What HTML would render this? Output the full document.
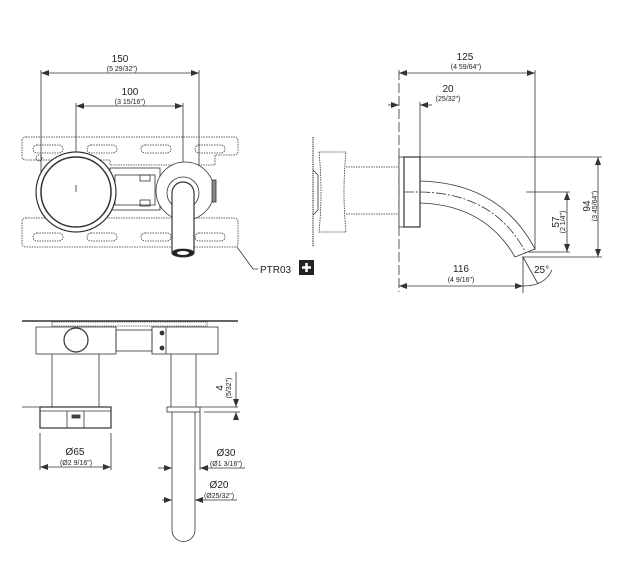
<!DOCTYPE html>
<html><head><meta charset="utf-8"><style>
html,body{margin:0;padding:0;background:#fff}
svg{display:block}
text{font-family:"Liberation Sans",sans-serif;fill:#222}
.n{font-size:10px}
.s{font-size:7px}
</style></head><body>
<svg width="619" height="570" viewBox="0 0 619 570" xmlns="http://www.w3.org/2000/svg">
<defs>
<marker id="a" markerWidth="8" markerHeight="6" refX="8" refY="3" orient="auto-start-reverse" markerUnits="userSpaceOnUse"><path d="M0,0 L8,3 L0,6z" fill="#333"/></marker>
</defs>
<g stroke="#333" stroke-width="0.8" fill="none">
<!-- TOP LEFT VIEW -->
<line x1="41" y1="70" x2="41" y2="180"/><line x1="199" y1="70" x2="199" y2="180"/>
<line x1="41" y1="73" x2="199" y2="73" marker-start="url(#a)" marker-end="url(#a)"/>
<line x1="76" y1="103" x2="76" y2="192"/><line x1="183" y1="103" x2="183" y2="190"/>
<line x1="76" y1="106" x2="183" y2="106" marker-start="url(#a)" marker-end="url(#a)"/>
<path d="M26,137 H234 Q238,137 238,141 V151 Q238,155 234,155 H215 V165 H110 V160 H26 Q22,160 22,156 V141 Q22,137 26,137z" stroke-dasharray="1.5,1"/>
<path d="M26,218 H234 Q238,218 238,222 V243 Q238,247 234,247 H26 Q22,247 22,243 V222 Q22,218 26,218z" stroke-dasharray="1.5,1"/>
<g stroke-dasharray="1.5,1">
<rect x="33" y="145" width="30" height="8" rx="4"/><rect x="87" y="145" width="30" height="8" rx="4"/><rect x="141" y="145" width="30" height="8" rx="4"/><rect x="195" y="145" width="30" height="8" rx="4"/>
<rect x="33" y="233" width="30" height="8" rx="4"/><rect x="87" y="233" width="30" height="8" rx="4"/><rect x="141" y="233" width="30" height="8" rx="4"/><rect x="195" y="233" width="30" height="8" rx="4"/>
<circle cx="39" cy="158" r="3"/>
</g>
<rect x="110" y="168" width="50" height="42" fill="#fff"/>
<rect x="115" y="175" width="40" height="30"/>
<rect x="140" y="175" width="10" height="6"/><rect x="140" y="200" width="10" height="6"/>
<circle cx="76" cy="192" r="40" fill="#fff" stroke-width="1.2"/>
<circle cx="76" cy="192" r="35" stroke-width="1.5"/>
<circle cx="185" cy="191" r="29" fill="#fff"/>
<rect x="212" y="180" width="4" height="22" fill="#888"/>
<circle cx="183" cy="193" r="16"/>
<path d="M172,193 A11,11 0 0 1 194,193 V253 H172z" fill="#fff" stroke-width="1.2"/>
<ellipse cx="183" cy="253" rx="11" ry="4" fill="#222"/><ellipse cx="183" cy="253" rx="6" ry="2" fill="#fff" stroke="none"/>
<line x1="76" y1="185" x2="76" y2="192"/>
<polyline points="237,247 253,269 258,269"/>
<!-- RIGHT SIDE VIEW -->
<line x1="313" y1="137" x2="313" y2="247" stroke-dasharray="1,0.8" stroke-width="1.2"/>
<path d="M319,152 Q323,192 319,232 H346 Q342,192 346,152z" stroke-dasharray="1.5,1"/>
<path d="M313,170 L318,175 V210 L313,215" />
<line x1="346" y1="167" x2="399" y2="167" stroke-dasharray="1.5,1"/>
<line x1="346" y1="214" x2="399" y2="214" stroke-dasharray="1.5,1"/>
<line x1="399" y1="70" x2="399" y2="292" stroke-dasharray="10,3"/>
<line x1="535" y1="70" x2="535" y2="250"/>
<line x1="399" y1="73" x2="535" y2="73" marker-start="url(#a)" marker-end="url(#a)"/>
<line x1="420" y1="102" x2="420" y2="157"/>
<line x1="388" y1="105" x2="399" y2="105" marker-end="url(#a)"/>
<line x1="432" y1="105" x2="420" y2="105" marker-end="url(#a)"/>
<rect x="399" y="157" width="5" height="70" fill="#fff"/>
<rect x="404" y="157" width="16" height="70" fill="#fff" stroke-width="1.2"/>
<path d="M420,181 Q500,183 535,249"/>
<path d="M420,203 Q485,205 515,257"/>
<line x1="515" y1="257" x2="535" y2="249"/>
<path d="M404,192 L420,192 Q495,193 526,253" stroke-dasharray="10,2,2,2"/>
<line x1="420" y1="157" x2="602" y2="157"/>
<line x1="526" y1="192" x2="570" y2="192"/>
<line x1="528" y1="252" x2="570" y2="252"/>
<line x1="522" y1="257" x2="602" y2="257"/>
<line x1="598" y1="157" x2="598" y2="257" marker-start="url(#a)" marker-end="url(#a)"/>
<line x1="567" y1="192" x2="567" y2="252" marker-start="url(#a)" marker-end="url(#a)"/>
<line x1="523" y1="257" x2="523" y2="293"/>
<line x1="399" y1="286" x2="523" y2="286" marker-start="url(#a)" marker-end="url(#a)"/>
<line x1="523" y1="257" x2="538" y2="284"/>
<path d="M523,286 Q545,286 552,270"/>
<!-- BOTTOM VIEW -->
<line x1="22" y1="321" x2="238" y2="321" stroke-width="1.5"/>
<rect x="52" y="322" width="155" height="4" stroke-dasharray="1,0.8"/>
<rect x="36" y="327" width="80" height="27"/>
<rect x="116" y="330" width="36" height="21"/>
<rect x="152" y="327" width="66" height="27"/>
<line x1="166" y1="327" x2="166" y2="354"/>
<circle cx="76" cy="340" r="12" stroke-width="1.2"/>
<circle cx="162" cy="333" r="2" fill="#333"/><circle cx="162" cy="348" r="2" fill="#333"/>
<line x1="52" y1="354" x2="52" y2="407"/><line x1="99" y1="354" x2="99" y2="407"/>
<line x1="171" y1="354" x2="171" y2="407"/><line x1="196" y1="354" x2="196" y2="407"/>
<line x1="22" y1="407" x2="110" y2="407"/><line x1="200" y1="407" x2="238" y2="407"/>
<rect x="40" y="407" width="71" height="21" stroke-width="1.2"/>
<line x1="40" y1="411" x2="111" y2="411"/>
<line x1="67" y1="411" x2="67" y2="428"/><line x1="84" y1="411" x2="84" y2="428"/>
<rect x="72" y="415" width="8" height="3" fill="#444"/>
<rect x="167" y="407" width="33" height="5"/>
<path d="M172,412 V530 A11.5,11.5 0 0 0 195,530 V412"/>
<line x1="40" y1="433" x2="40" y2="470"/><line x1="111" y1="433" x2="111" y2="470"/>
<line x1="40" y1="467" x2="111" y2="467" marker-start="url(#a)" marker-end="url(#a)"/>
<line x1="158" y1="468" x2="172" y2="468" marker-end="url(#a)"/>
<line x1="245" y1="468" x2="200" y2="468" marker-end="url(#a)"/>
<line x1="200" y1="412" x2="200" y2="470"/>
<line x1="162" y1="500" x2="172" y2="500" marker-end="url(#a)"/>
<line x1="237" y1="500" x2="195" y2="500" marker-end="url(#a)"/>
<line x1="236" y1="372" x2="236" y2="407" marker-end="url(#a)"/>
<line x1="236" y1="420" x2="236" y2="412" marker-end="url(#a)"/>
<line x1="204" y1="412" x2="240" y2="412"/>
</g>
<!-- text -->
<text class="n" x="120" y="62" text-anchor="middle">150</text>
<text class="s" x="122" y="71" text-anchor="middle">(5 29/32")</text>
<text class="n" x="130" y="95" text-anchor="middle">100</text>
<text class="s" x="130" y="104" text-anchor="middle">(3 15/16")</text>
<text class="n" x="260" y="273">PTR03</text>
<rect x="299" y="260" width="15" height="15" fill="#222"/>
<path d="M306.5,263 V272 M302,267.5 H311" stroke="#fff" stroke-width="2.5"/>
<text class="n" x="465" y="60" text-anchor="middle">125</text>
<text class="s" x="466" y="69" text-anchor="middle">(4 59/64")</text>
<text class="n" x="448" y="92" text-anchor="middle">20</text>
<text class="s" x="448" y="101" text-anchor="middle">(25/32")</text>
<text class="n" x="461" y="272" text-anchor="middle">116</text>
<text class="s" x="461" y="282" text-anchor="middle">(4 9/16")</text>
<text class="n" x="534" y="273">25°</text>
<text class="n" transform="translate(559,222) rotate(-90)" text-anchor="middle">57</text>
<text class="s" transform="translate(565,222) rotate(-90)" text-anchor="middle">(2 1/4")</text>
<text class="n" transform="translate(590,206) rotate(-90)" text-anchor="middle">94</text>
<text class="s" transform="translate(597,206) rotate(-90)" text-anchor="middle">(3 45/64")</text>
<text class="n" x="75" y="455" text-anchor="middle">Ø65</text>
<text class="s" x="76" y="465" text-anchor="middle">(Ø2 9/16")</text>
<text class="n" x="226" y="456" text-anchor="middle">Ø30</text>
<text class="s" x="226" y="466" text-anchor="middle">(Ø1 3/16")</text>
<text class="n" x="219" y="488" text-anchor="middle">Ø20</text>
<text class="s" x="219" y="498" text-anchor="middle">(Ø25/32")</text>
<text class="n" transform="translate(223,388) rotate(-90)" text-anchor="middle">4</text>
<text class="s" transform="translate(231,388) rotate(-90)" text-anchor="middle">(5/32")</text>
</svg>
</body></html>
